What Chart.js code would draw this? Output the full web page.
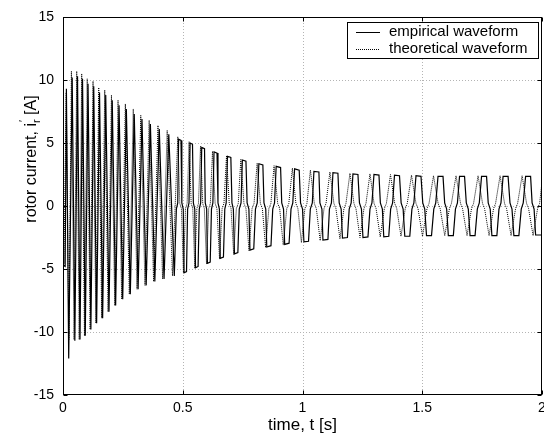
<!DOCTYPE html>
<html>
<head>
<meta charset="utf-8">
<script src="https://cdn.jsdelivr.net/npm/chart.js@4"></script>
<style>
  body { margin: 0; background: #fff; }
  canvas { display: block; }
</style>
</head>
<body>
<canvas id="rotor-chart" width="544" height="436"></canvas>
<script>
// x axis ticks and y axis ticks
const xTicks = [0, 0.5, 1, 1.5, 2];
const xTickLabels = ['0', '0.5', '1', '1.5', '2'];
const yTicks = [-15, -10, -5, 0, 5, 10, 15];
const seriesNames = ['empirical waveform', 'theoretical waveform'];

// empirical waveform, time [s]
const empTime = [
  0, 0.001, 0.009, 0.0142, 0.0238, 0.0384, 0.0495, 0.0606, 0.0710, 0.0815,
  0.0930, 0.1045, 0.1164, 0.1283, 0.1404, 0.1525, 0.1655, 0.1784, 0.1920, 0.2056,
  0.2198, 0.2340, 0.2493, 0.2645, 0.2810, 0.2975, 0.3136, 0.3297, 0.3473, 0.3648,
  0.3834, 0.4020, 0.4219, 0.4417, 0.4647,
  0.4733, 0.4791, 0.4827, 0.4927, 0.4962, 0.5021, 0.5056, 0.5157, 0.5203, 0.5261,
  0.5307, 0.5407, 0.5443, 0.5502, 0.5533, 0.5641, 0.5690, 0.5748, 0.5792, 0.5909,
  0.5940, 0.5999, 0.6030, 0.6147, 0.6199, 0.6258, 0.6306, 0.6431, 0.6471, 0.6530,
  0.6565, 0.6699, 0.6755, 0.6814, 0.6866, 0.7008, 0.7054, 0.7113, 0.7159, 0.7301,
  0.7359, 0.7434, 0.7489, 0.7639, 0.7687, 0.7762, 0.7806, 0.7965, 0.8036, 0.8111,
  0.8178, 0.8345, 0.8391, 0.8466, 0.8508, 0.8684, 0.8757, 0.8832, 0.8901, 0.9085,
  0.9133, 0.9208, 0.9256, 0.9440, 0.9520, 0.9595, 0.9670, 0.9862, 0.9919, 1.0002,
  1.0059, 1.0251, 1.0326, 1.0410, 1.0477, 1.0685, 1.0727, 1.0811, 1.0853, 1.1062,
  1.1124, 1.1208, 1.1271, 1.1479, 1.1532, 1.1615, 1.1668, 1.1876, 1.1950, 1.2033,
  1.2106, 1.2315, 1.2378, 1.2462, 1.2524, 1.2733, 1.2817, 1.2900, 1.2984, 1.3193,
  1.3251, 1.3335, 1.3393, 1.3602, 1.3680, 1.3763, 1.3841, 1.4050, 1.4118, 1.4202,
  1.4271, 1.4480, 1.4568, 1.4651, 1.4739, 1.4948, 1.5021, 1.5105, 1.5178, 1.5387,
  1.5481, 1.5564, 1.5658, 1.5867, 1.5936, 1.6020, 1.6089, 1.6298, 1.6386, 1.6469,
  1.6557, 1.6766, 1.6839, 1.6923, 1.6996, 1.7205, 1.7299, 1.7382, 1.7476, 1.7685,
  1.7754, 1.7838, 1.7907, 1.8116, 1.8203, 1.8287, 1.8375, 1.8584, 1.8663, 1.8747,
  1.8826, 1.9035, 1.9133, 1.9217, 1.9315, 1.9524, 1.9587, 1.9670, 1.9733, 2.0
];
// empirical waveform, rotor current [A]
const empCurrent = [
  0, -4.7, -4.8, 9.3, -12.1, 10.2, -10.7, 10.3, -10.6, 10.1,
  -10.3, 9.7, -9.8, 9.5, -9.3, 9.0, -8.9, 8.8, -8.4, 8.4,
  -7.9, 8.0, -7.4, 7.7, -7.0, 7.3, -6.6, 6.9, -6.3, 6.5,
  -6.0, 6.1, -5.8, 5.7, -5.55,
  -0.25, 0.25, 5.3, 5.2, 0.25, -0.25, -5.3, -5.2, -0.25, 0.25,
  5.0, 4.9, 0.25, -0.25, -4.9, -4.8, -0.25, 0.25, 4.65, 4.55,
  0.25, -0.25, -4.55, -4.45, -0.25, 0.25, 4.3, 4.2, 0.25, -0.25,
  -4.15, -4.05, -0.25, 0.25, 3.95, 3.85, 0.25, -0.25, -3.8, -3.7,
  -0.25, 0.25, 3.65, 3.55, 0.25, -0.25, -3.5, -3.4, -0.25, 0.25,
  3.35, 3.25, 0.25, -0.25, -3.25, -3.15, -0.25, 0.25, 3.15, 3.05,
  0.25, -0.25, -3.05, -2.95, -0.25, 0.25, 2.95, 2.85, 0.25, -0.25,
  -2.85, -2.8, -0.25, 0.25, 2.75, 2.7, 0.25, -0.25, -2.7, -2.65,
  -0.25, 0.25, 2.65, 2.6, 0.25, -0.25, -2.55, -2.5, -0.25, 0.25,
  2.55, 2.5, 0.25, -0.25, -2.5, -2.45, -0.25, 0.25, 2.5, 2.45,
  0.25, -0.25, -2.45, -2.4, -0.25, 0.25, 2.45, 2.4, 0.25, -0.25,
  -2.4, -2.4, -0.25, 0.25, 2.4, 2.35, 0.25, -0.25, -2.35, -2.35,
  -0.25, 0.25, 2.35, 2.35, 0.25, -0.25, -2.35, -2.35, -0.25, 0.25,
  2.35, 2.35, 0.25, -0.25, -2.35, -2.35, -0.25, 0.25, 2.35, 2.35,
  0.25, -0.25, -2.35, -2.35, -0.25, 0.25, 2.35, 2.35, 0.25, -0.25,
  -2.35, -2.35, -0.25, 0.25, 2.35, 2.35, 0.25, -0.25, -2.3, -2.3
];

// theoretical waveform, time [s]
const theoTime = [
  0, 0.004, 0.0135, 0.0245, 0.0351, 0.0462, 0.0573, 0.0677, 0.0781, 0.0896,
  0.1011, 0.1132, 0.1254, 0.1373, 0.1492, 0.1617, 0.1743, 0.1883, 0.2023, 0.2160,
  0.2298, 0.2451, 0.2603, 0.2769, 0.2934, 0.3090, 0.3247, 0.3423, 0.3598, 0.3782,
  0.3966, 0.4158, 0.4350, 0.4572, 0.4793,
  0.4877, 0.4944, 0.5029, 0.5115, 0.5182, 0.5265, 0.5351, 0.5418, 0.5504, 0.5589,
  0.5656, 0.5742, 0.5834, 0.5901, 0.5993, 0.6084, 0.6151, 0.6243, 0.6352, 0.6427,
  0.6536, 0.6644, 0.6720, 0.6828, 0.6941, 0.7016, 0.7127, 0.7238, 0.7317, 0.7426,
  0.7555, 0.7639, 0.7766, 0.7894, 0.7977, 0.8107, 0.8241, 0.8324, 0.8460, 0.8596,
  0.8680, 0.8813, 0.8964, 0.9047, 0.9196, 0.9344, 0.9428, 0.9578, 0.9724, 0.9808,
  0.9954, 1.0100, 1.0184, 1.0330, 1.0493, 1.0577, 1.0738, 1.0899, 1.0982, 1.1145,
  1.1312, 1.1396, 1.1563, 1.1730, 1.1814, 1.1981, 1.2148, 1.2232, 1.2399, 1.2566,
  1.2650, 1.2817, 1.2988, 1.3072, 1.3245, 1.3418, 1.3502, 1.3673, 1.3851, 1.3935,
  1.4112, 1.4290, 1.4373, 1.4551, 1.4739, 1.4823, 1.5011, 1.5199, 1.5282, 1.5470,
  1.5663, 1.5746, 1.5940, 1.6135, 1.6218, 1.6411, 1.6599, 1.6682, 1.6870, 1.7058,
  1.7142, 1.7330, 1.7518, 1.7602, 1.7790, 1.7978, 1.8061, 1.8249, 1.8437, 1.8521,
  1.8709, 1.8897, 1.8981, 1.9169, 1.9357, 1.9440, 1.9628, 1.9816, 1.9900, 2.0
];
// theoretical waveform, rotor current [A]
const theoCurrent = [
  0, -4.6, 9.0, -10.6, 10.7, -10.6, 10.7, -10.6, 10.5, -10.3,
  10.1, -9.8, 9.9, -9.3, 9.4, -8.9, 9.2, -8.4, 8.8, -7.9,
  8.4, -7.4, 8.1, -7.0, 7.7, -6.6, 7.2, -6.3, 6.8, -6.0,
  6.4, -5.8, 6.0, -5.55, 5.5,
  0.2, -0.2, -5.3, -0.2, 0.2, 5.1, 0.2, -0.2, -4.95, -0.2,
  0.2, 4.75, 0.2, -0.2, -4.6, -0.2, 0.2, 4.35, 0.2, -0.2,
  -4.2, -0.2, 0.2, 4.0, 0.2, -0.2, -3.85, -0.2, 0.2, 3.7,
  0.2, -0.2, -3.55, -0.2, 0.2, 3.4, 0.2, -0.2, -3.3, -0.2,
  0.2, 3.2, 0.2, -0.2, -3.1, -0.2, 0.2, 3.0, 0.2, -0.2,
  -2.9, -0.2, 0.2, 2.85, 0.2, -0.2, -2.75, -0.2, 0.2, 2.7,
  0.2, -0.2, -2.6, -0.2, 0.2, 2.6, 0.2, -0.2, -2.5, -0.2,
  0.2, 2.55, 0.2, -0.2, -2.45, -0.2, 0.2, 2.5, 0.2, -0.2,
  -2.4, -0.2, 0.2, 2.45, 0.2, -0.2, -2.4, -0.2, 0.2, 2.4,
  0.2, -0.2, -2.35, -0.2, 0.2, 2.4, 0.2, -0.2, -2.35, -0.2,
  0.2, 2.4, 0.2, -0.2, -2.35, -0.2, 0.2, 2.4, 0.2, -0.2,
  -2.35, -0.2, 0.2, 2.4, 0.2, -0.2, -2.35, -0.2, 0.2, 1.9
];

const toPoints = (ts, vs) => ts.map((t, i) => ({ x: t, y: vs[i] }));

const FONT = '"Liberation Sans", Arial, Helvetica, sans-serif';

// box, inward ticks, dotted grid, legend and axis titles (matlab look)
const matlabFrame = {
  id: 'matlabFrame',
  beforeDatasetsDraw(chart) {
    const { ctx, chartArea: a, scales: { x, y } } = chart;
    ctx.save();
    ctx.strokeStyle = '#b4b4b4';
    ctx.lineWidth = 1;
    ctx.setLineDash([1, 2]);
    xTicks.slice(1, -1).forEach(v => {
      const px = Math.round(x.getPixelForValue(v)) + 0.5;
      ctx.beginPath(); ctx.moveTo(px, a.top); ctx.lineTo(px, a.bottom); ctx.stroke();
    });
    yTicks.slice(1, -1).forEach(v => {
      const py = Math.round(y.getPixelForValue(v)) + 0.5;
      ctx.beginPath(); ctx.moveTo(a.left, py); ctx.lineTo(a.right, py); ctx.stroke();
    });
    ctx.restore();
  },
  afterDatasetsDraw(chart) {
    const { ctx, chartArea: a, scales: { x, y } } = chart;
    ctx.save();
    ctx.strokeStyle = '#000';
    ctx.lineWidth = 1;
    const L = Math.round(a.left) + 0.5, R = Math.round(a.right) - 0.5;
    const T = Math.round(a.top) + 0.5, B = Math.round(a.bottom) - 0.5;
    ctx.strokeRect(L, T, R - L, B - T);
    const tl = 4;
    ctx.beginPath();
    xTicks.forEach(v => {
      const px = Math.round(x.getPixelForValue(v)) + 0.5;
      ctx.moveTo(px, B); ctx.lineTo(px, B - tl);
      ctx.moveTo(px, T); ctx.lineTo(px, T + tl);
    });
    yTicks.forEach(v => {
      const py = Math.round(y.getPixelForValue(v)) + 0.5;
      ctx.moveTo(L, py); ctx.lineTo(L + tl, py);
      ctx.moveTo(R, py); ctx.lineTo(R - tl, py);
    });
    ctx.stroke();

    // legend
    ctx.fillStyle = '#fff';
    ctx.fillRect(347.5, 22.5, 191, 36);
    ctx.strokeRect(347.5, 22.5, 191, 36);
    ctx.beginPath(); ctx.moveTo(356, 32.5); ctx.lineTo(380, 32.5); ctx.stroke();
    ctx.setLineDash([1, 1]);
    ctx.beginPath(); ctx.moveTo(356, 49.5); ctx.lineTo(380, 49.5); ctx.stroke();
    ctx.setLineDash([]);
    ctx.fillStyle = '#000';
    ctx.font = '15px ' + FONT;
    ctx.textAlign = 'left';
    ctx.textBaseline = 'middle';
    ctx.fillText(seriesNames[0], 389, 32);
    ctx.fillText(seriesNames[1], 389, 49);

    // x title
    ctx.font = '17px ' + FONT;
    ctx.textAlign = 'center';
    ctx.textBaseline = 'alphabetic';
    ctx.fillText('time, t [s]', (a.left + a.right) / 2, 430);

    // y title with subscript and prime
    const parts = [
      { s: 'rotor current, i', f: '16px ', dy: 0 },
      { s: 'r', f: '11px ', dy: 4 },
      { s: ' [A]', f: '16px ', dy: 0 }
    ];
    let total = 0;
    parts.forEach(p => { ctx.font = p.f + FONT; p.w = ctx.measureText(p.s).width; total += p.w; });
    ctx.translate(36, 159);
    ctx.rotate(-Math.PI / 2);
    ctx.textAlign = 'left';
    let cx = -total / 2;
    parts.forEach((p, i) => {
      ctx.font = p.f + FONT;
      ctx.fillText(p.s, cx, p.dy);
      if (i === 1) {
        ctx.font = '11px ' + FONT;
        ctx.fillText('\u2032', cx + 1, -9);
      }
      cx += p.w;
    });
    ctx.restore();
  }
};

new Chart(document.getElementById('rotor-chart'), {
  type: 'line',
  data: {
    datasets: [
      {
        label: seriesNames[0],
        data: toPoints(empTime, empCurrent),
        borderColor: '#000',
        borderWidth: 1.2,
        pointRadius: 0,
        tension: 0,
        fill: false
      },
      {
        label: seriesNames[1],
        data: toPoints(theoTime, theoCurrent),
        borderColor: '#000',
        borderWidth: 1,
        borderDash: [1, 1],
        pointRadius: 0,
        tension: 0,
        fill: false
      }
    ]
  },
  options: {
    responsive: false,
    animation: false,
    events: [],
    layout: { padding: { top: 17, right: 2, left: 0, bottom: 0 } },
    plugins: { legend: { display: false }, tooltip: { enabled: false } },
    scales: {
      x: {
        type: 'linear',
        min: 0,
        max: 2,
        afterBuildTicks: s => { s.ticks = xTicks.map(v => ({ value: v })); },
        afterFit: s => { s.height = 41; s.paddingLeft = 0; s.paddingRight = 0; },
        grid: { display: false, drawTicks: false },
        border: { display: false },
        ticks: {
          autoSkip: false,
          maxRotation: 0,
          padding: 5,
          color: '#000',
          font: { family: FONT, size: 14 },
          callback: (v) => xTickLabels[xTicks.indexOf(v)]
        }
      },
      y: {
        type: 'linear',
        min: -15,
        max: 15,
        afterBuildTicks: s => { s.ticks = yTicks.map(v => ({ value: v })); },
        afterFit: s => { s.width = 63; s.paddingTop = 0; s.paddingBottom = 0; },
        grid: { display: false, drawTicks: false },
        border: { display: false },
        ticks: {
          autoSkip: false,
          padding: 9,
          color: '#000',
          font: { family: FONT, size: 14 },
          callback: (v) => String(v)
        }
      }
    }
  },
  plugins: [matlabFrame]
});
</script>
</body>
</html>
